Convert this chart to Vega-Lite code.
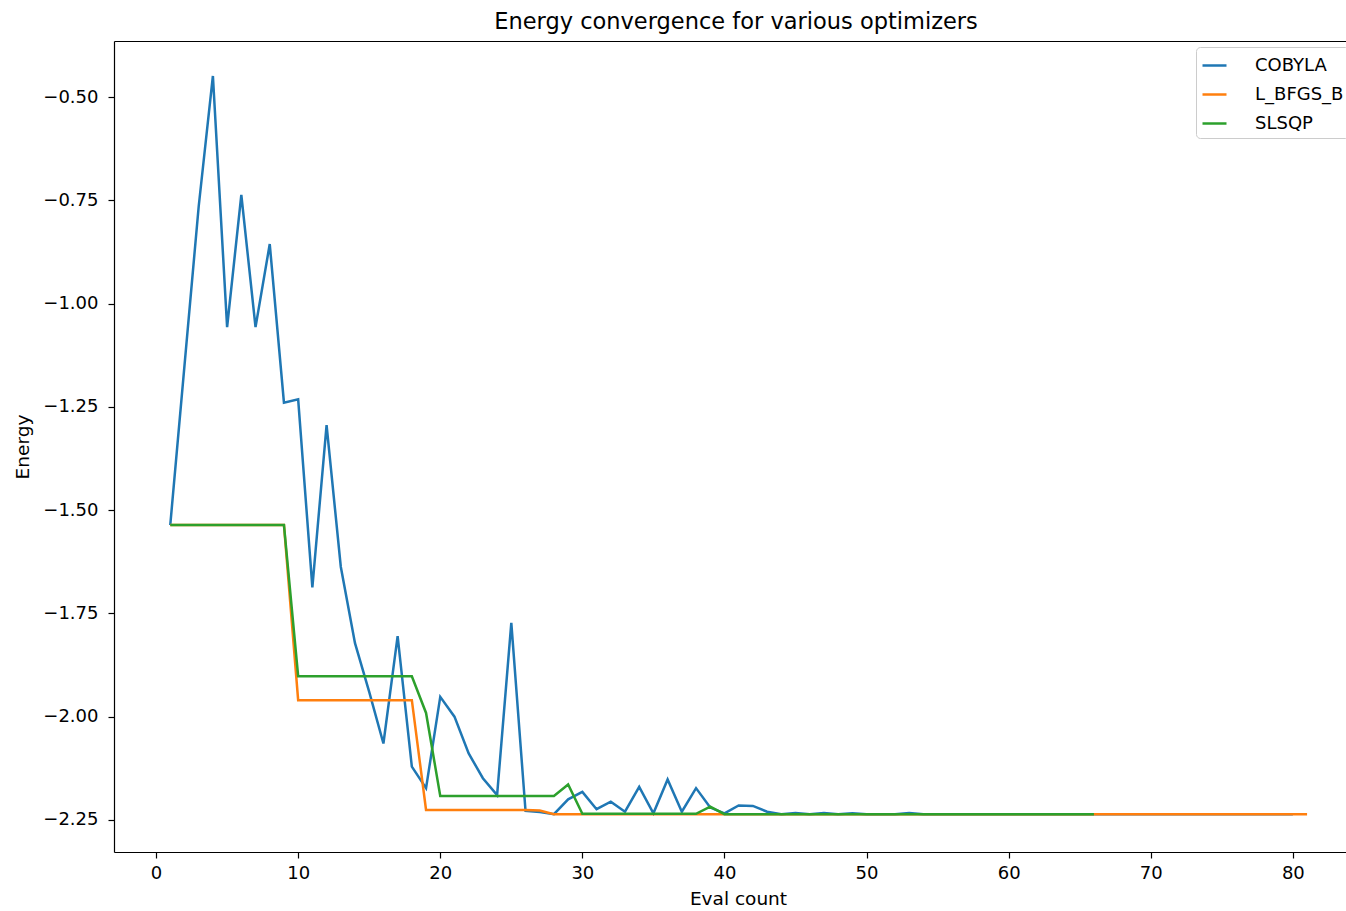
{
  "$schema": "https://vega.github.io/schema/vega-lite/v6.json",
  "autosize": {"type": "none"},
  "padding": {"left": 114, "top": 41, "right": 0, "bottom": 59},
  "width": 1232,
  "height": 811,
  "background": "white",
  "config": {
    "font": "DejaVu Sans",
    "view": {"stroke": null},
    "axis": {"grid": false, "domainColor": "#000000", "domainWidth": 1.2, "tickColor": "#000000", "tickWidth": 1.2, "tickSize": 6, "labelFont": "DejaVu Sans", "labelFontSize": 18, "labelColor": "#000000", "titleFont": "DejaVu Sans", "titleFontSize": 18.5, "titleFontWeight": "normal", "titleColor": "#000000"}
  },
  "title": {"text": "Energy convergence for various optimizers", "fontSize": 22.5, "fontWeight": "normal", "font": "DejaVu Sans", "color": "#000000", "offset": 8, "dx": 6},
  "data": {"values": [
    {"optimizer": "COBYLA", "eval": 1, "energy": -1.536},
    {"optimizer": "COBYLA", "eval": 2, "energy": -1.15},
    {"optimizer": "COBYLA", "eval": 3, "energy": -0.765},
    {"optimizer": "COBYLA", "eval": 4, "energy": -0.449},
    {"optimizer": "COBYLA", "eval": 5, "energy": -1.057},
    {"optimizer": "COBYLA", "eval": 6, "energy": -0.737},
    {"optimizer": "COBYLA", "eval": 7, "energy": -1.057},
    {"optimizer": "COBYLA", "eval": 8, "energy": -0.856},
    {"optimizer": "COBYLA", "eval": 9, "energy": -1.24},
    {"optimizer": "COBYLA", "eval": 10, "energy": -1.232},
    {"optimizer": "COBYLA", "eval": 11, "energy": -1.687},
    {"optimizer": "COBYLA", "eval": 12, "energy": -1.294},
    {"optimizer": "COBYLA", "eval": 13, "energy": -1.637},
    {"optimizer": "COBYLA", "eval": 14, "energy": -1.822},
    {"optimizer": "COBYLA", "eval": 15, "energy": -1.94},
    {"optimizer": "COBYLA", "eval": 16, "energy": -2.065},
    {"optimizer": "COBYLA", "eval": 17, "energy": -1.805},
    {"optimizer": "COBYLA", "eval": 18, "energy": -2.121},
    {"optimizer": "COBYLA", "eval": 19, "energy": -2.173},
    {"optimizer": "COBYLA", "eval": 20, "energy": -1.952},
    {"optimizer": "COBYLA", "eval": 21, "energy": -2.0},
    {"optimizer": "COBYLA", "eval": 22, "energy": -2.089},
    {"optimizer": "COBYLA", "eval": 23, "energy": -2.149},
    {"optimizer": "COBYLA", "eval": 24, "energy": -2.19},
    {"optimizer": "COBYLA", "eval": 25, "energy": -1.773},
    {"optimizer": "COBYLA", "eval": 26, "energy": -2.228},
    {"optimizer": "COBYLA", "eval": 27, "energy": -2.231},
    {"optimizer": "COBYLA", "eval": 28, "energy": -2.236},
    {"optimizer": "COBYLA", "eval": 29, "energy": -2.2},
    {"optimizer": "COBYLA", "eval": 30, "energy": -2.182},
    {"optimizer": "COBYLA", "eval": 31, "energy": -2.224},
    {"optimizer": "COBYLA", "eval": 32, "energy": -2.206},
    {"optimizer": "COBYLA", "eval": 33, "energy": -2.23},
    {"optimizer": "COBYLA", "eval": 34, "energy": -2.17},
    {"optimizer": "COBYLA", "eval": 35, "energy": -2.234},
    {"optimizer": "COBYLA", "eval": 36, "energy": -2.152},
    {"optimizer": "COBYLA", "eval": 37, "energy": -2.23},
    {"optimizer": "COBYLA", "eval": 38, "energy": -2.173},
    {"optimizer": "COBYLA", "eval": 39, "energy": -2.22},
    {"optimizer": "COBYLA", "eval": 40, "energy": -2.234},
    {"optimizer": "COBYLA", "eval": 41, "energy": -2.215},
    {"optimizer": "COBYLA", "eval": 42, "energy": -2.216},
    {"optimizer": "COBYLA", "eval": 43, "energy": -2.23},
    {"optimizer": "COBYLA", "eval": 44, "energy": -2.236},
    {"optimizer": "COBYLA", "eval": 45, "energy": -2.233},
    {"optimizer": "COBYLA", "eval": 46, "energy": -2.236},
    {"optimizer": "COBYLA", "eval": 47, "energy": -2.233},
    {"optimizer": "COBYLA", "eval": 48, "energy": -2.236},
    {"optimizer": "COBYLA", "eval": 49, "energy": -2.234},
    {"optimizer": "COBYLA", "eval": 50, "energy": -2.236},
    {"optimizer": "COBYLA", "eval": 51, "energy": -2.236},
    {"optimizer": "COBYLA", "eval": 52, "energy": -2.236},
    {"optimizer": "COBYLA", "eval": 53, "energy": -2.233},
    {"optimizer": "COBYLA", "eval": 54, "energy": -2.236},
    {"optimizer": "COBYLA", "eval": 55, "energy": -2.236},
    {"optimizer": "COBYLA", "eval": 56, "energy": -2.236},
    {"optimizer": "COBYLA", "eval": 57, "energy": -2.236},
    {"optimizer": "COBYLA", "eval": 58, "energy": -2.236},
    {"optimizer": "COBYLA", "eval": 59, "energy": -2.236},
    {"optimizer": "COBYLA", "eval": 60, "energy": -2.236},
    {"optimizer": "COBYLA", "eval": 61, "energy": -2.236},
    {"optimizer": "COBYLA", "eval": 62, "energy": -2.236},
    {"optimizer": "COBYLA", "eval": 63, "energy": -2.236},
    {"optimizer": "COBYLA", "eval": 64, "energy": -2.236},
    {"optimizer": "COBYLA", "eval": 65, "energy": -2.236},
    {"optimizer": "COBYLA", "eval": 66, "energy": -2.236},
    {"optimizer": "COBYLA", "eval": 67, "energy": -2.236},
    {"optimizer": "COBYLA", "eval": 68, "energy": -2.236},
    {"optimizer": "COBYLA", "eval": 69, "energy": -2.236},
    {"optimizer": "COBYLA", "eval": 70, "energy": -2.236},
    {"optimizer": "COBYLA", "eval": 71, "energy": -2.236},
    {"optimizer": "COBYLA", "eval": 72, "energy": -2.236},
    {"optimizer": "COBYLA", "eval": 73, "energy": -2.236},
    {"optimizer": "COBYLA", "eval": 74, "energy": -2.236},
    {"optimizer": "COBYLA", "eval": 75, "energy": -2.236},
    {"optimizer": "COBYLA", "eval": 76, "energy": -2.236},
    {"optimizer": "COBYLA", "eval": 77, "energy": -2.236},
    {"optimizer": "COBYLA", "eval": 78, "energy": -2.236},
    {"optimizer": "COBYLA", "eval": 79, "energy": -2.236},
    {"optimizer": "COBYLA", "eval": 80, "energy": -2.236},
    {"optimizer": "L_BFGS_B", "eval": 1, "energy": -1.536},
    {"optimizer": "L_BFGS_B", "eval": 2, "energy": -1.536},
    {"optimizer": "L_BFGS_B", "eval": 3, "energy": -1.536},
    {"optimizer": "L_BFGS_B", "eval": 4, "energy": -1.536},
    {"optimizer": "L_BFGS_B", "eval": 5, "energy": -1.536},
    {"optimizer": "L_BFGS_B", "eval": 6, "energy": -1.536},
    {"optimizer": "L_BFGS_B", "eval": 7, "energy": -1.536},
    {"optimizer": "L_BFGS_B", "eval": 8, "energy": -1.536},
    {"optimizer": "L_BFGS_B", "eval": 9, "energy": -1.536},
    {"optimizer": "L_BFGS_B", "eval": 10, "energy": -1.96},
    {"optimizer": "L_BFGS_B", "eval": 11, "energy": -1.96},
    {"optimizer": "L_BFGS_B", "eval": 12, "energy": -1.96},
    {"optimizer": "L_BFGS_B", "eval": 13, "energy": -1.96},
    {"optimizer": "L_BFGS_B", "eval": 14, "energy": -1.96},
    {"optimizer": "L_BFGS_B", "eval": 15, "energy": -1.96},
    {"optimizer": "L_BFGS_B", "eval": 16, "energy": -1.96},
    {"optimizer": "L_BFGS_B", "eval": 17, "energy": -1.96},
    {"optimizer": "L_BFGS_B", "eval": 18, "energy": -1.96},
    {"optimizer": "L_BFGS_B", "eval": 19, "energy": -2.226},
    {"optimizer": "L_BFGS_B", "eval": 20, "energy": -2.226},
    {"optimizer": "L_BFGS_B", "eval": 21, "energy": -2.226},
    {"optimizer": "L_BFGS_B", "eval": 22, "energy": -2.226},
    {"optimizer": "L_BFGS_B", "eval": 23, "energy": -2.226},
    {"optimizer": "L_BFGS_B", "eval": 24, "energy": -2.226},
    {"optimizer": "L_BFGS_B", "eval": 25, "energy": -2.226},
    {"optimizer": "L_BFGS_B", "eval": 26, "energy": -2.226},
    {"optimizer": "L_BFGS_B", "eval": 27, "energy": -2.227},
    {"optimizer": "L_BFGS_B", "eval": 28, "energy": -2.236},
    {"optimizer": "L_BFGS_B", "eval": 29, "energy": -2.236},
    {"optimizer": "L_BFGS_B", "eval": 30, "energy": -2.236},
    {"optimizer": "L_BFGS_B", "eval": 31, "energy": -2.236},
    {"optimizer": "L_BFGS_B", "eval": 32, "energy": -2.236},
    {"optimizer": "L_BFGS_B", "eval": 33, "energy": -2.236},
    {"optimizer": "L_BFGS_B", "eval": 34, "energy": -2.236},
    {"optimizer": "L_BFGS_B", "eval": 35, "energy": -2.236},
    {"optimizer": "L_BFGS_B", "eval": 36, "energy": -2.236},
    {"optimizer": "L_BFGS_B", "eval": 37, "energy": -2.236},
    {"optimizer": "L_BFGS_B", "eval": 38, "energy": -2.236},
    {"optimizer": "L_BFGS_B", "eval": 39, "energy": -2.236},
    {"optimizer": "L_BFGS_B", "eval": 40, "energy": -2.236},
    {"optimizer": "L_BFGS_B", "eval": 41, "energy": -2.236},
    {"optimizer": "L_BFGS_B", "eval": 42, "energy": -2.236},
    {"optimizer": "L_BFGS_B", "eval": 43, "energy": -2.236},
    {"optimizer": "L_BFGS_B", "eval": 44, "energy": -2.236},
    {"optimizer": "L_BFGS_B", "eval": 45, "energy": -2.236},
    {"optimizer": "L_BFGS_B", "eval": 46, "energy": -2.236},
    {"optimizer": "L_BFGS_B", "eval": 47, "energy": -2.236},
    {"optimizer": "L_BFGS_B", "eval": 48, "energy": -2.236},
    {"optimizer": "L_BFGS_B", "eval": 49, "energy": -2.236},
    {"optimizer": "L_BFGS_B", "eval": 50, "energy": -2.236},
    {"optimizer": "L_BFGS_B", "eval": 51, "energy": -2.236},
    {"optimizer": "L_BFGS_B", "eval": 52, "energy": -2.236},
    {"optimizer": "L_BFGS_B", "eval": 53, "energy": -2.236},
    {"optimizer": "L_BFGS_B", "eval": 54, "energy": -2.236},
    {"optimizer": "L_BFGS_B", "eval": 55, "energy": -2.236},
    {"optimizer": "L_BFGS_B", "eval": 56, "energy": -2.236},
    {"optimizer": "L_BFGS_B", "eval": 57, "energy": -2.236},
    {"optimizer": "L_BFGS_B", "eval": 58, "energy": -2.236},
    {"optimizer": "L_BFGS_B", "eval": 59, "energy": -2.236},
    {"optimizer": "L_BFGS_B", "eval": 60, "energy": -2.236},
    {"optimizer": "L_BFGS_B", "eval": 61, "energy": -2.236},
    {"optimizer": "L_BFGS_B", "eval": 62, "energy": -2.236},
    {"optimizer": "L_BFGS_B", "eval": 63, "energy": -2.236},
    {"optimizer": "L_BFGS_B", "eval": 64, "energy": -2.236},
    {"optimizer": "L_BFGS_B", "eval": 65, "energy": -2.236},
    {"optimizer": "L_BFGS_B", "eval": 66, "energy": -2.236},
    {"optimizer": "L_BFGS_B", "eval": 67, "energy": -2.236},
    {"optimizer": "L_BFGS_B", "eval": 68, "energy": -2.236},
    {"optimizer": "L_BFGS_B", "eval": 69, "energy": -2.236},
    {"optimizer": "L_BFGS_B", "eval": 70, "energy": -2.236},
    {"optimizer": "L_BFGS_B", "eval": 71, "energy": -2.236},
    {"optimizer": "L_BFGS_B", "eval": 72, "energy": -2.236},
    {"optimizer": "L_BFGS_B", "eval": 73, "energy": -2.236},
    {"optimizer": "L_BFGS_B", "eval": 74, "energy": -2.236},
    {"optimizer": "L_BFGS_B", "eval": 75, "energy": -2.236},
    {"optimizer": "L_BFGS_B", "eval": 76, "energy": -2.236},
    {"optimizer": "L_BFGS_B", "eval": 77, "energy": -2.236},
    {"optimizer": "L_BFGS_B", "eval": 78, "energy": -2.236},
    {"optimizer": "L_BFGS_B", "eval": 79, "energy": -2.236},
    {"optimizer": "L_BFGS_B", "eval": 80, "energy": -2.236},
    {"optimizer": "L_BFGS_B", "eval": 81, "energy": -2.236},
    {"optimizer": "SLSQP", "eval": 1, "energy": -1.536},
    {"optimizer": "SLSQP", "eval": 2, "energy": -1.536},
    {"optimizer": "SLSQP", "eval": 3, "energy": -1.536},
    {"optimizer": "SLSQP", "eval": 4, "energy": -1.536},
    {"optimizer": "SLSQP", "eval": 5, "energy": -1.536},
    {"optimizer": "SLSQP", "eval": 6, "energy": -1.536},
    {"optimizer": "SLSQP", "eval": 7, "energy": -1.536},
    {"optimizer": "SLSQP", "eval": 8, "energy": -1.536},
    {"optimizer": "SLSQP", "eval": 9, "energy": -1.536},
    {"optimizer": "SLSQP", "eval": 10, "energy": -1.902},
    {"optimizer": "SLSQP", "eval": 11, "energy": -1.902},
    {"optimizer": "SLSQP", "eval": 12, "energy": -1.902},
    {"optimizer": "SLSQP", "eval": 13, "energy": -1.902},
    {"optimizer": "SLSQP", "eval": 14, "energy": -1.902},
    {"optimizer": "SLSQP", "eval": 15, "energy": -1.902},
    {"optimizer": "SLSQP", "eval": 16, "energy": -1.902},
    {"optimizer": "SLSQP", "eval": 17, "energy": -1.902},
    {"optimizer": "SLSQP", "eval": 18, "energy": -1.902},
    {"optimizer": "SLSQP", "eval": 19, "energy": -1.991},
    {"optimizer": "SLSQP", "eval": 20, "energy": -2.192},
    {"optimizer": "SLSQP", "eval": 21, "energy": -2.192},
    {"optimizer": "SLSQP", "eval": 22, "energy": -2.192},
    {"optimizer": "SLSQP", "eval": 23, "energy": -2.192},
    {"optimizer": "SLSQP", "eval": 24, "energy": -2.192},
    {"optimizer": "SLSQP", "eval": 25, "energy": -2.192},
    {"optimizer": "SLSQP", "eval": 26, "energy": -2.192},
    {"optimizer": "SLSQP", "eval": 27, "energy": -2.192},
    {"optimizer": "SLSQP", "eval": 28, "energy": -2.192},
    {"optimizer": "SLSQP", "eval": 29, "energy": -2.164},
    {"optimizer": "SLSQP", "eval": 30, "energy": -2.235},
    {"optimizer": "SLSQP", "eval": 31, "energy": -2.235},
    {"optimizer": "SLSQP", "eval": 32, "energy": -2.235},
    {"optimizer": "SLSQP", "eval": 33, "energy": -2.235},
    {"optimizer": "SLSQP", "eval": 34, "energy": -2.235},
    {"optimizer": "SLSQP", "eval": 35, "energy": -2.235},
    {"optimizer": "SLSQP", "eval": 36, "energy": -2.235},
    {"optimizer": "SLSQP", "eval": 37, "energy": -2.235},
    {"optimizer": "SLSQP", "eval": 38, "energy": -2.235},
    {"optimizer": "SLSQP", "eval": 39, "energy": -2.218},
    {"optimizer": "SLSQP", "eval": 40, "energy": -2.236},
    {"optimizer": "SLSQP", "eval": 41, "energy": -2.236},
    {"optimizer": "SLSQP", "eval": 42, "energy": -2.236},
    {"optimizer": "SLSQP", "eval": 43, "energy": -2.236},
    {"optimizer": "SLSQP", "eval": 44, "energy": -2.236},
    {"optimizer": "SLSQP", "eval": 45, "energy": -2.236},
    {"optimizer": "SLSQP", "eval": 46, "energy": -2.236},
    {"optimizer": "SLSQP", "eval": 47, "energy": -2.236},
    {"optimizer": "SLSQP", "eval": 48, "energy": -2.236},
    {"optimizer": "SLSQP", "eval": 49, "energy": -2.236},
    {"optimizer": "SLSQP", "eval": 50, "energy": -2.236},
    {"optimizer": "SLSQP", "eval": 51, "energy": -2.236},
    {"optimizer": "SLSQP", "eval": 52, "energy": -2.236},
    {"optimizer": "SLSQP", "eval": 53, "energy": -2.236},
    {"optimizer": "SLSQP", "eval": 54, "energy": -2.236},
    {"optimizer": "SLSQP", "eval": 55, "energy": -2.236},
    {"optimizer": "SLSQP", "eval": 56, "energy": -2.236},
    {"optimizer": "SLSQP", "eval": 57, "energy": -2.236},
    {"optimizer": "SLSQP", "eval": 58, "energy": -2.236},
    {"optimizer": "SLSQP", "eval": 59, "energy": -2.236},
    {"optimizer": "SLSQP", "eval": 60, "energy": -2.236},
    {"optimizer": "SLSQP", "eval": 61, "energy": -2.236},
    {"optimizer": "SLSQP", "eval": 62, "energy": -2.236},
    {"optimizer": "SLSQP", "eval": 63, "energy": -2.236},
    {"optimizer": "SLSQP", "eval": 64, "energy": -2.236},
    {"optimizer": "SLSQP", "eval": 65, "energy": -2.236},
    {"optimizer": "SLSQP", "eval": 66, "energy": -2.236}
  ]},
  "layer": [
    {
      "mark": {"type": "line", "strokeWidth": 2.5, "clip": true},
      "encoding": {
        "x": {"field": "eval", "type": "quantitative", "title": "Eval count",
          "scale": {"domain": [-2.96, 83.74], "nice": false, "zero": false},
          "axis": {"values": [0, 10, 20, 30, 40, 50, 60, 70, 80], "labelPadding": 6, "titlePadding": 7, "titleX": 624}},
        "y": {"field": "energy", "type": "quantitative", "title": "Energy",
          "scale": {"domain": [-2.3276, -0.3644], "nice": false, "zero": false},
          "axis": {"values": [-0.5, -0.75, -1.0, -1.25, -1.5, -1.75, -2.0, -2.25], "format": ".2f", "labelPadding": 10, "titlePadding": 10}},
        "color": {"field": "optimizer", "type": "nominal", "title": null,
          "scale": {"domain": ["COBYLA", "L_BFGS_B", "SLSQP"], "range": ["#1f77b4", "#ff7f0e", "#2ca02c"]},
          "legend": {"orient": "none", "legendX": 1082, "legendY": 6, "symbolType": "stroke", "symbolSize": 576, "symbolStrokeWidth": 2.5, "labelFontSize": 18, "labelFont": "DejaVu Sans", "labelColor": "#000000", "labelOffset": 27, "rowPadding": 6, "padding": 5, "strokeColor": "#cccccc", "fillColor": "#ffffff", "cornerRadius": 4}}
      }
    },
    {
      "mark": {"type": "rule", "opacity": 0},
      "encoding": {
        "x": {"field": "eval", "type": "quantitative", "axis": {"orient": "top", "labels": false, "ticks": false, "title": null, "grid": false}}
      }
    }
  ],
  "resolve": {"axis": {"x": "independent"}}
}
